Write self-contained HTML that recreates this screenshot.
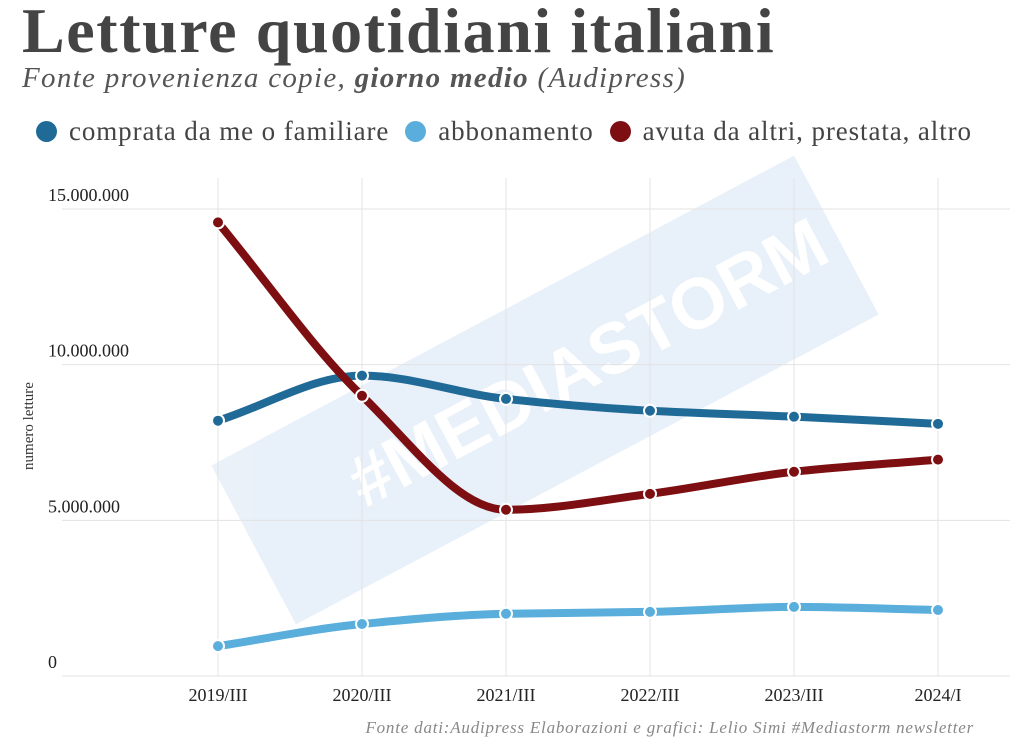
<!DOCTYPE html>
<html><head><meta charset="utf-8"><style>
body{margin:0;background:#fff;width:1029px;height:754px;overflow:hidden;font-family:"Liberation Serif",serif;}
#title{position:absolute;left:22px;top:-6px;font-size:64px;font-weight:bold;color:#444;margin:0;letter-spacing:1.6px;white-space:nowrap}
#sub{position:absolute;left:22px;top:62px;font-size:29px;font-style:italic;color:#555;letter-spacing:1.3px;white-space:nowrap}
#legend{position:absolute;left:36px;top:116px;font-size:27px;color:#444;display:flex;gap:16px;letter-spacing:0.9px;white-space:nowrap}
.li{display:flex;align-items:center;gap:12px}
.dot{width:21px;height:21px;border-radius:50%;display:inline-block}
svg{position:absolute;left:0;top:0}
</style></head><body>
<div id="title">Letture quotidiani italiani</div>
<div id="sub">Fonte provenienza copie, <b>giorno medio</b> (Audipress)</div>
<div id="legend">
<div class="li"><span class="dot" style="background:#1f6a96"></span>comprata da me o familiare</div>
<div class="li"><span class="dot" style="background:#5aaedb"></span>abbonamento</div>
<div class="li"><span class="dot" style="background:#7d0f12"></span>avuta da altri, prestata, altro</div>
</div>
<svg id="chart" width="1029" height="754"></svg>
<script>
const categories=["2019/III","2020/III","2021/III","2022/III","2023/III","2024/I"];
const comprata=[8200000,9650000,8900000,8520000,8330000,8100000];
const abbonamento=[960000,1670000,2000000,2060000,2220000,2120000];
const altro=[14570000,9000000,5340000,5850000,6560000,6950000];
const yTicks=[0,5000000,10000000,15000000];
const yTickLabels=["0","5.000.000","10.000.000","15.000.000"];
const NS="http://www.w3.org/2000/svg";
const svg=document.getElementById('chart');
const x=i=>218+i*144;
const y=v=>676-v*(467/15000000);
function mk(t,a){const e=document.createElementNS(NS,t);for(const k in a)e.setAttribute(k,a[k]);svg.appendChild(e);return e;}
// watermark
const wm=mk('g',{transform:'rotate(-28 545 390)',opacity:'0.1'});


const wr=document.createElementNS(NS,'rect');wr.setAttribute('x',215);wr.setAttribute('y',300);wr.setAttribute('width',660);wr.setAttribute('height',180);wr.setAttribute('fill','#2e78c8');wm.appendChild(wr);
const wt=document.createElementNS(NS,'text');wt.setAttribute('x',330);wt.setAttribute('y',410);wt.setAttribute('font-size','72');wt.setAttribute('font-weight','bold');wt.setAttribute('fill','#fff');wt.setAttribute('font-family','Liberation Sans,sans-serif');wt.textContent='#MEDIASTORM';wm.appendChild(wt);
// grid
yTicks.forEach((v,i)=>{
 const l=mk('line',{x1:62,x2:1010,y1:y(v),y2:y(v),stroke:'#e3e3e3','stroke-width':1});
 
 
 const t=mk('text',{x:48,y:y(v)-8,'font-size':18,fill:'#222'});
 
 
 t.textContent=yTickLabels[i];
});
categories.forEach((c,i)=>{
 const l=mk('line',{x1:x(i),x2:x(i),y1:178,y2:676,stroke:'#e3e3e3','stroke-width':1});
 
 
 const t=mk('text',{x:x(i),y:701,'font-size':18,fill:'#222','text-anchor':'middle'});
 
 
 t.textContent=c;
});
const yt=mk('text',{x:0,y:0,'font-size':15,fill:'#333','text-anchor':'middle',transform:'translate(33 426) rotate(-90)'});


yt.textContent='numero letture';
const src=mk('text',{x:974,y:733,'font-size':17,fill:'#888','font-style':'italic','text-anchor':'end','letter-spacing':'0.8'});


src.textContent='Fonte dati:Audipress Elaborazioni e grafici: Lelio Simi  #Mediastorm newsletter';
function monotone(pts){
 const n=pts.length,d=[],m=[];
 for(let i=0;i<n-1;i++)d.push((pts[i+1][1]-pts[i][1])/(pts[i+1][0]-pts[i][0]));
 m[0]=d[0];m[n-1]=d[n-2];
 for(let i=1;i<n-1;i++)m[i]=d[i-1]*d[i]>0?2/(1/d[i-1]+1/d[i]):0;
 let p=`M${pts[0][0]},${pts[0][1]}`;
 for(let i=0;i<n-1;i++){const h=(pts[i+1][0]-pts[i][0])/3;
  p+=`C${pts[i][0]+h},${pts[i][1]+m[i]*h} ${pts[i+1][0]-h},${pts[i+1][1]-m[i+1]*h} ${pts[i+1][0]},${pts[i+1][1]}`;}
 return p;
}
function series(vals,color,name){
 const pts=vals.map((v,i)=>[x(i),y(v)]);
 const p=mk('path',{d:monotone(pts),fill:'none',stroke:color,'stroke-width':8,'stroke-linecap':'round'});
 
 
 pts.forEach(q=>{
  const c=mk('circle',{cx:q[0],cy:q[1],r:6,fill:color,stroke:'#fff','stroke-width':2});
  
  
 });
}
series(abbonamento,'#5aaedb','abbonamento');
series(comprata,'#1f6a96','comprata');
series(altro,'#7d0f12','altro');
</script>
</body></html>
